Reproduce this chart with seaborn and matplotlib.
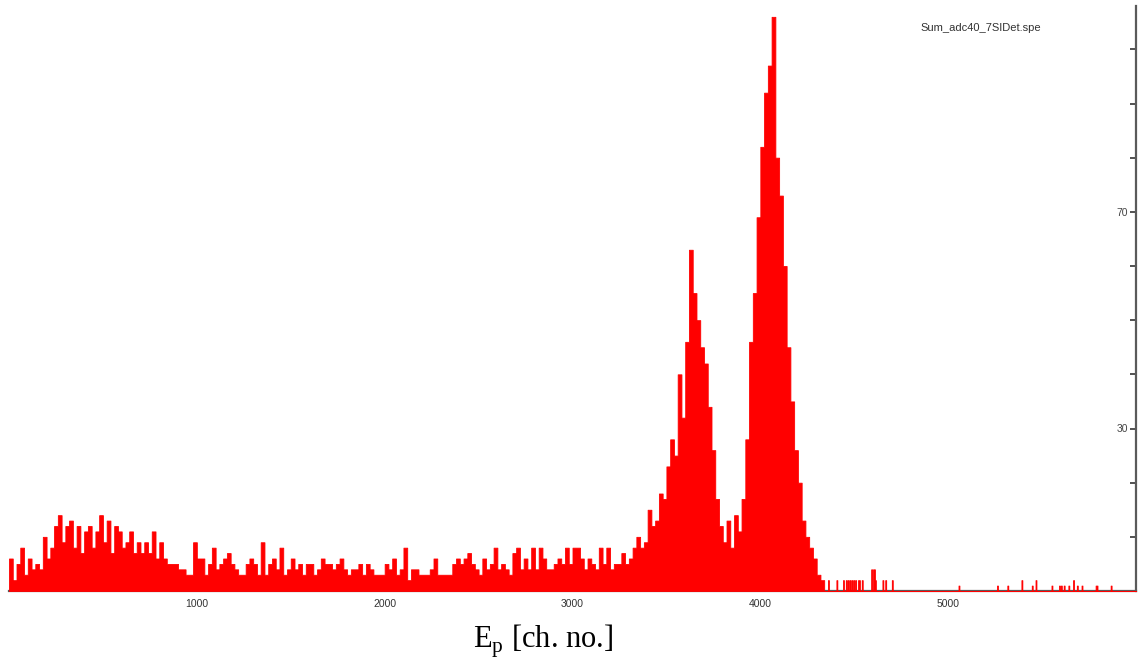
import numpy as np
import pandas as pd
import matplotlib.pyplot as plt
import seaborn as sns

# counts per 20-channel bin
BIN = 20
bg_low = [6, 2, 5, 8, 3, 6, 4, 5, 4, 10,
          6, 8, 12, 14, 9, 12, 13, 8, 12, 7,
          11, 12, 8, 11, 14, 9, 13, 7, 12, 11,
          8, 9, 11, 7, 9, 7, 9, 7, 11, 6,
          9, 6, 5, 5, 5, 4, 4, 3, 3, 9,
          6, 6, 3, 5, 8, 4, 5, 6, 7, 5,
          4, 3, 3, 5, 6, 5, 3, 9, 3, 5,
          6, 4, 8, 3, 4, 6, 4, 5]                      # ch 0 - 1560
bg_mid = [3, 5, 5, 3, 4, 6, 5, 5, 4, 5,
          6, 4, 3, 4, 4, 5, 3, 5, 4, 3,
          3, 3, 5, 4, 6, 3, 4, 8, 2, 4,
          4, 3, 3, 3, 4, 6, 3, 3, 3, 3,
          5, 6, 5, 6, 7, 5, 4, 3, 6, 4,
          5, 8, 4, 5, 4, 3, 7, 8, 4, 6,
          4, 8, 4, 8, 6, 4, 4, 5, 6, 5,
          8, 5, 8, 8, 6, 4, 6, 5, 4]                   # ch 1560 - 3140
rise = [8, 5, 8, 4, 5, 5, 7, 5, 6, 8,
        10, 8, 9, 15, 12, 13, 18, 17]                   # ch 3140 - 3500
peaks = [23, 28, 25, 40, 32, 46, 63, 55, 50, 45,
         42, 34, 26, 17, 12, 9, 13, 8, 14, 11,
         17, 28, 46, 55, 69, 82, 92, 97, 106, 80,
         73, 60, 45, 35, 26, 20, 13, 10, 8, 6,
         3, 2]                                          # ch 3500 - 4340

# isolated hits above the peaks
tail_channels = [4362, 4406, 4441, 4456, 4465, 4477, 4488, 4498, 4509, 4520,
                 4527, 4544, 4594, 4600, 4606, 4612, 4654, 4668, 4704, 5058,
                 5262, 5319, 5390, 5445, 5466, 5551, 5594, 5602, 5617, 5643,
                 5665, 5688, 5714, 5785, 5794, 5865]
tail_counts = [2, 2, 2, 2, 2, 2, 2, 2, 2, 2,
               2, 2, 4, 4, 4, 2, 2, 2, 2, 1,
               1, 1, 2, 1, 2, 1, 1, 1, 1, 1,
               2, 1, 1, 1, 1, 1]

x_ticks = np.arange(500, 6000, 500)
y_ticks = np.arange(10, 101, 10)
x_labels = [str(t) if t % 1000 == 0 else '' for t in x_ticks]
y_labels = [str(t) if t in (30, 70) else '' for t in y_ticks]

counts = np.array(bg_low + bg_mid + rise + peaks)
main_edges = np.arange(len(counts) + 1) * BIN
tail_edges = np.arange(main_edges[-1], 6001, 5)
edges = np.concatenate([main_edges, tail_edges[1:]]).tolist()

df = pd.DataFrame({
    'channel': np.concatenate([main_edges[:-1] + BIN / 2, tail_channels]),
    'counts': np.concatenate([counts, tail_counts]),
})

sns.set_theme(style='white')
plt.rcParams['font.family'] = ['Liberation Sans', 'DejaVu Sans']
plt.rcParams['mathtext.fontset'] = 'custom'
plt.rcParams['mathtext.rm'] = 'Liberation Serif'

fig = plt.figure(figsize=(11.38, 6.6), dpi=100)
ax = fig.add_axes([9 / 1138, 69 / 660, 1127 / 1138, 585 / 660])

sns.histplot(data=df, x='channel', weights='counts', bins=edges,
             element='step', fill=True, color='#ff0000', alpha=1,
             linewidth=0.6, ax=ax, zorder=3)

ax.set_xlim(0, 6000)
ax.set_ylim(0, 108)
ax.set_xlabel('')
ax.set_ylabel('')

for side in ('left', 'top'):
    ax.spines[side].set_visible(False)
for side in ('bottom', 'right'):
    ax.spines[side].set_color('#5a5a5a')
    ax.spines[side].set_linewidth(1.6)

ax.set_xticks(x_ticks)
ax.set_xticklabels(x_labels)
ax.tick_params(axis='x', direction='inout', length=5, width=1.2,
               color='#333333', labelsize=7.5, labelcolor='#333333', pad=3)

ax.yaxis.tick_right()
ax.set_yticks(y_ticks)
ax.set_yticklabels(y_labels)
ax.tick_params(axis='y', direction='in', length=4.5, width=1.2,
               color='#333333', labelsize=7.5, labelcolor='#444444', pad=-5.5)
for lab in ax.get_yticklabels():
    lab.set_horizontalalignment('right')

fig.text(981 / 1138, 1 - 28 / 660, 'Sum_adc40_7SIDet.spe', ha='center',
         va='center', fontsize=8, color='#333333')
fig.text(543 / 1138, 12 / 660, r'E$_{\mathrm{p}}$ [ch. no.]', ha='center',
         va='baseline', fontsize=22, family='Liberation Serif', color='black')

fig.savefig('out.png', dpi=100)
plt.close(fig)
